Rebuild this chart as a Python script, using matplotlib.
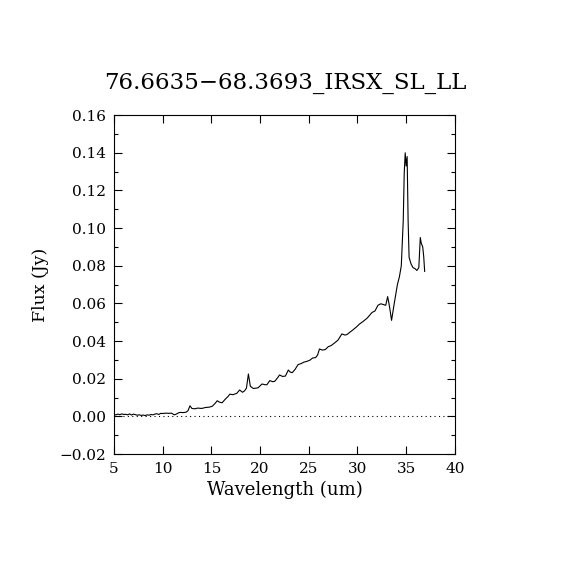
import matplotlib
matplotlib.use("Agg")
import matplotlib.pyplot as plt
from matplotlib.ticker import MultipleLocator

title = "76.6635\u221268.3693_IRSX_SL_LL"
xlabel = "Wavelength (um)"
ylabel = "Flux (Jy)"

wavelength = [5.0, 5.2, 5.4, 5.6, 5.8, 6.0, 6.2, 6.4, 6.6, 6.8, 7.0, 7.2, 7.4, 7.6, 7.8,
              8.0, 8.2, 8.4, 8.6, 8.8, 9.0, 9.2, 9.4, 9.6, 9.8, 10.0, 10.3, 10.6, 10.9,
              11.2, 11.4, 11.6, 11.8, 12.1, 12.4, 12.6, 12.8, 13.0, 13.3, 13.6, 14.0,
              14.4, 14.8, 15.1, 15.4, 15.6, 15.8, 16.1, 16.4, 16.7, 16.9, 17.2, 17.6,
              17.9, 18.2, 18.4, 18.6, 18.8, 19.0, 19.3, 19.6, 19.8, 20.2, 20.5, 20.7,
              21.0, 21.3, 21.5, 21.8, 22.0, 22.3, 22.6, 22.9, 23.1, 23.3, 23.6, 23.9,
              24.2, 24.5, 24.8, 25.1, 25.4, 25.7, 25.9, 26.1, 26.4, 26.7, 27.0, 27.3,
              27.7, 28.0, 28.4, 28.7, 28.9, 29.2, 29.5, 29.9, 30.2, 30.6, 31.0, 31.3,
              31.5, 31.8, 32.1, 32.4, 32.6, 32.9, 33.1, 33.3, 33.5, 33.8, 34.1, 34.3,
              34.5, 34.7, 34.8, 34.9, 35.0, 35.1, 35.2, 35.3, 35.5, 35.7, 35.9, 36.1,
              36.3, 36.45, 36.55, 36.7, 36.8, 36.9]
flux = [0.0010, 0.0008, 0.0012, 0.0009, 0.0013, 0.0010, 0.0011, 0.0008, 0.0013, 0.0007,
        0.0012, 0.0009, 0.0006, 0.0008, 0.0005, 0.0007, 0.0004, 0.0008, 0.0006, 0.0010,
        0.0008, 0.0012, 0.0014, 0.0010, 0.0016, 0.0015, 0.0017, 0.0016, 0.0017,
        0.0008, 0.0012, 0.0018, 0.0021, 0.0020, 0.0022, 0.0030, 0.0056, 0.0042, 0.0040,
        0.0044, 0.0042, 0.0047, 0.0049, 0.0054, 0.0070, 0.0083, 0.0076, 0.0072, 0.0090,
        0.0105, 0.0118, 0.0115, 0.0122, 0.0140, 0.0128, 0.0135, 0.0150, 0.0225, 0.0160,
        0.0148, 0.0150, 0.0152, 0.0172, 0.0168, 0.0168, 0.0190, 0.0184, 0.0186, 0.0205,
        0.0220, 0.0212, 0.0214, 0.0246, 0.0235, 0.0232, 0.0250, 0.0275, 0.0280, 0.0288,
        0.0292, 0.0298, 0.0310, 0.0312, 0.0325, 0.0358, 0.0352, 0.0355, 0.0370, 0.0376,
        0.0392, 0.0405, 0.0438, 0.0432, 0.0434, 0.0446, 0.0458, 0.0475, 0.0490, 0.0505,
        0.0522, 0.0540, 0.0552, 0.0560, 0.0590, 0.0598, 0.0595, 0.0590, 0.0636, 0.0580,
        0.0510, 0.0607, 0.0700, 0.0740, 0.0800, 0.1040, 0.1290, 0.1400, 0.1330, 0.1380,
        0.1040, 0.0845, 0.0810, 0.0790, 0.0785, 0.0775, 0.0790, 0.0950, 0.0920, 0.0900,
        0.0850, 0.0770]

plt.rcParams['font.family'] = ['DejaVu Serif']

fig = plt.figure(figsize=(5.7, 5.7), dpi=100)
ax = fig.add_axes([0.2, 0.2035, 0.598, 0.5945])

ax.plot(wavelength, flux, color='black', linewidth=0.8)
ax.axhline(0.0, color='black', linewidth=0.8, linestyle=(0, (1, 3)))

ax.set_xlim(5, 40)
ax.set_ylim(-0.02, 0.16)
ax.xaxis.set_major_locator(MultipleLocator(5))
ax.yaxis.set_major_locator(MultipleLocator(0.02))
ax.yaxis.set_minor_locator(MultipleLocator(0.01))
ax.yaxis.set_major_formatter(matplotlib.ticker.FuncFormatter(
    lambda v, p: ("\u2212" if v < -1e-9 else "") + f"{abs(v):.2f}"))

ax.tick_params(which='both', direction='in', top=True, right=True,
               labelsize=11, width=0.8, pad=6)
ax.tick_params(which='major', length=6)
ax.tick_params(which='minor', length=3)
for s in ax.spines.values():
    s.set_linewidth(0.8)

ax.set_xlabel(xlabel, fontsize=13, labelpad=3)
ax.set_ylabel(ylabel, fontsize=12.5, labelpad=7)
fig.text(0.5, 0.855, title, ha='center', va='center', fontsize=16.5)

fig.savefig("out.png", dpi=100)
